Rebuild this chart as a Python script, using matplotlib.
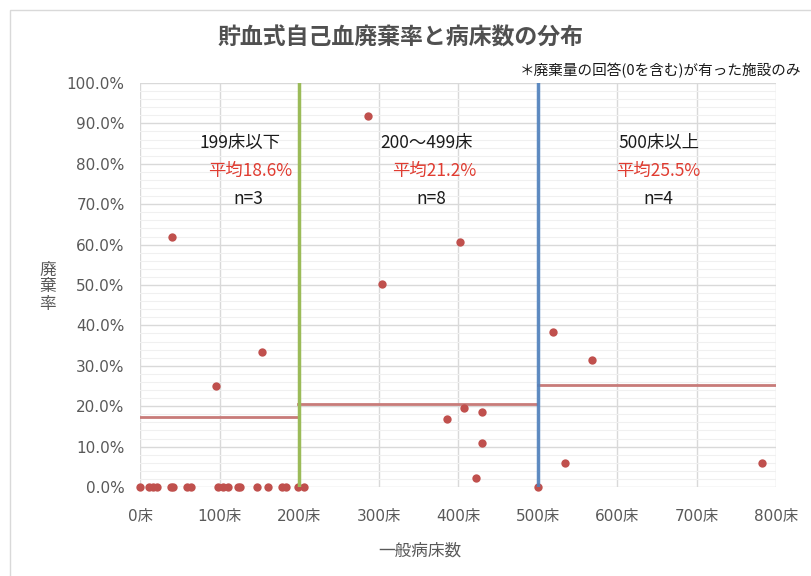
import matplotlib
matplotlib.use("Agg")
import matplotlib.pyplot as plt
from matplotlib.patches import Rectangle
from matplotlib.ticker import MultipleLocator, FuncFormatter

plt.rcParams['font.family'] = ['Noto Sans CJK JP', 'DejaVu Sans']

# ---- data ----
beds = [0, 11, 16, 22, 39, 41, 59, 64, 98, 104, 111, 123, 126, 147, 161, 178,
        184, 199, 206, 500,
        40, 95, 154, 287, 304, 386, 402, 408, 423, 430, 430, 519, 534, 568, 782]
rates = [0, 0, 0, 0, 0, 0, 0, 0, 0, 0, 0, 0, 0, 0, 0, 0,
         0, 0, 0, 0,
         61.9, 25.0, 33.3, 91.8, 50.2, 16.8, 60.6, 19.6, 2.2, 18.6, 10.8,
         38.4, 5.9, 31.4, 5.9]

group_names = ['199床以下', '200～499床', '500床以上']
group_avg_labels = ['平均18.6%', '平均21.2%', '平均25.5%']
group_n_labels = ['n=3', 'n=8', 'n=4']
group_starts = [0, 199, 500]
group_ends = [199, 498, 800]
group_mean_lines = [17.3, 20.6, 25.3]
boundaries = [200, 500]

x_ticks = [0, 100, 200, 300, 400, 500, 600, 700, 800]
y_ticks = [0, 10, 20, 30, 40, 50, 60, 70, 80, 90, 100]

title = '貯血式自己血廃棄率と病床数の分布'
note = '＊廃棄量の回答(0を含む)が有った施設のみ'
xlabel = '一般病床数'
ylabel = '廃\n棄\n率'

# ---- figure ----
fig = plt.figure(figsize=(8.11, 5.76), dpi=100)
ax = fig.add_axes([140/811, 1-487/576, (776-140)/811, (487-83)/576])

ax.set_xlim(0, 800)
ax.set_ylim(0, 100)
ax.set_xticks(x_ticks)
ax.set_yticks(y_ticks)
ax.yaxis.set_minor_locator(MultipleLocator(2))
ax.xaxis.set_major_formatter(FuncFormatter(lambda v, p: f'{int(v)}床'))
ax.yaxis.set_major_formatter(FuncFormatter(lambda v, p: f'{v:.1f}%'))
ax.grid(True, which='major', color='#d9d9d9', lw=1, zorder=0)
ax.grid(True, which='minor', axis='y', color='#f0f0f0', lw=0.8, zorder=0)
ax.set_axisbelow(True)
for s in ax.spines.values():
    s.set_visible(False)
ax.tick_params(which='both', length=0)
ax.tick_params(axis='x', pad=16, labelsize=11, labelcolor='#595959')
ax.tick_params(axis='y', pad=11, labelsize=11, labelcolor='#595959')
for lab in ax.get_xticklabels() + ax.get_yticklabels():
    lab.set_fontfamily(['DejaVu Sans', 'Noto Sans CJK JP'])

ax.scatter(beds, rates, s=36, color='#C0504D', zorder=3, clip_on=False, linewidths=0)

for xs, xe, m in zip(group_starts, group_ends, group_mean_lines):
    ax.plot([xs, xe], [m, m], color='#C87B79', lw=2, zorder=2)

ax.axvline(boundaries[0], color='#9BBB59', lw=2.5, zorder=4)
ax.axvline(boundaries[1], color='#4F81BD', lw=2.5, zorder=4, alpha=0.9)

name_x = [126, 361, 653]
avg_x = [138, 370, 652]
n_x = [136, 366, 652]
for i in range(3):
    ax.text(name_x[i], 85.1, group_names[i], ha='center', va='center', fontsize=12.5, color='#1a1a1a')
    ax.text(avg_x[i], 78.2, group_avg_labels[i], ha='center', va='center', fontsize=12.5, color='#E03C31')
    ax.text(n_x[i], 71.3, group_n_labels[i], ha='center', va='center', fontsize=12.5, color='#1a1a1a')

fig.text(401/811, 1-38/576, title, ha='center', va='center', fontsize=16.5, color='#505050', weight='bold')
fig.text(660/811, 1-71/576, note, ha='center', va='center', fontsize=10.5, color='#1a1a1a')
fig.text(420/811, 1-551/576, xlabel, ha='center', va='center', fontsize=12, color='#595959')
fig.text(48/811, 1-287/576, ylabel, ha='center', va='center', fontsize=12, color='#595959', linespacing=1.0)

fig.patches.append(Rectangle((10/811, -0.1), 1.5, 1-10/576+0.1, transform=fig.transFigure,
                             fill=False, edgecolor='#d9d9d9', lw=1))

fig.savefig('out.png', dpi=100)
